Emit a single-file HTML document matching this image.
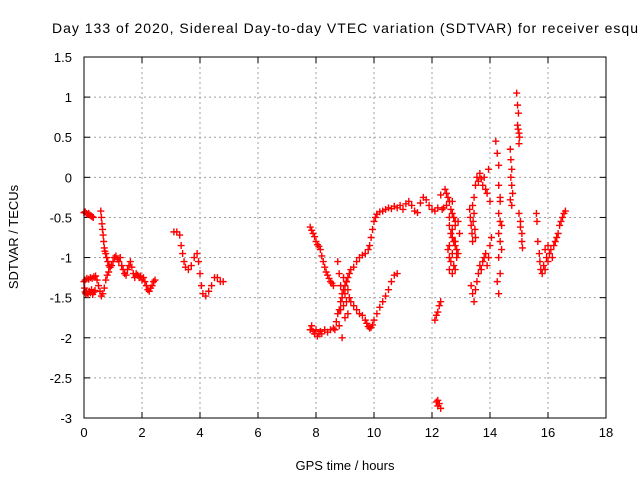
<!DOCTYPE html>
<html><head><meta charset="utf-8"><style>
body{margin:0;background:#fff;}
svg{display:block;font-family:"Liberation Sans",sans-serif;}
</style></head><body>
<svg id="chart" width="640" height="480">
<text x="52" y="33" font-size="14" textLength="586" lengthAdjust="spacing">Day 133 of 2020, Sidereal Day-to-day VTEC variation (SDTVAR) for receiver esqu</text>
<g id="grid"></g>
<g id="ticks"></g>
<g id="points"></g>
<rect x="84" y="57" width="522" height="361" fill="none" stroke="#000" stroke-width="1"/>
<text x="345" y="470" font-size="13" text-anchor="middle">GPS time / hours</text>
<text transform="translate(18,237) rotate(-90)" font-size="13" text-anchor="middle">SDTVAR / TECUs</text>
</svg>
<script>
const xTicks=[0,2,4,6,8,10,12,14,16,18];
const yTicks=[1.5,1,0.5,0,-0.5,-1,-1.5,-2,-2.5,-3];
const hours=[0,0.04,0.08,0.12,0.16,0.2,0.24,0.28,0.32,
0,0.02,0.04,0.06,0.08,0.1,0.14,0.18,0.22,0.26,0.3,0.34,0.38,
0.04,0.1,0.16,0.22,0.28,0.34,0.4,
0.45,0.5,0.55,0.6,0.65,0.7,0.75,0.8,0.85,0.9,
0.58,0.6,0.62,0.64,0.66,0.68,0.7,0.72,0.75,0.78,0.82,0.86,0.9,0.95,1.0,1.05,1.1,1.15,1.2,1.25,1.3,1.35,1.4,1.45,1.5,1.55,1.6,1.65,1.7,1.75,1.8,1.85,1.9,1.95,2.0,2.05,2.1,2.15,2.2,2.25,2.3,2.35,2.4,2.45,
3.1,3.2,3.3,3.35,3.4,3.45,3.5,3.6,3.7,3.8,3.9,3.95,4.0,4.05,4.1,4.2,4.3,4.4,4.5,4.6,4.7,4.8,
7.8,7.85,7.9,7.95,8.0,8.05,8.1,8.15,8.2,8.25,8.3,8.35,8.4,8.45,8.5,8.55,8.6,
7.8,7.85,7.9,7.95,8.0,8.05,8.1,8.15,8.2,8.3,8.4,8.5,8.6,
8.65,8.7,8.75,8.8,8.85,8.9,8.95,9.0,9.05,9.1,9.15,9.2,9.3,9.4,9.5,9.6,9.7,9.8,9.85,9.9,9.95,10.0,10.05,10.1,
8.75,8.8,8.85,8.9,8.95,9.0,9.05,9.1,8.8,8.9,9.0,8.85,8.95,9.05,
9.05,9.1,9.15,9.2,9.3,9.4,9.5,9.6,9.7,9.75,9.8,9.85,9.9,9.95,10.0,10.1,10.2,10.3,10.4,10.5,10.6,10.7,10.8,
10.1,10.2,10.3,10.4,10.5,10.6,10.7,10.8,10.9,11.0,11.1,11.2,11.3,11.4,11.5,11.6,11.7,11.8,11.9,12.0,12.1,12.2,12.3,
12.1,12.15,12.2,12.25,12.3,
12.15,12.2,12.25,12.3,12.2,
12.45,12.5,12.55,12.6,12.65,12.7,12.75,12.8,12.6,12.65,12.7,12.75,12.8,12.85,12.9,12.6,12.65,12.7,12.75,12.8,12.85,12.55,12.6,12.7,12.8,12.9,12.95,12.6,12.7,12.8,12.5,12.4,12.35,12.6,12.7,
13.4,13.45,13.5,13.55,13.6,13.65,13.7,13.75,13.8,13.85,13.9,13.95,14.0,
13.3,13.32,13.35,13.38,13.4,13.42,13.45,13.48,13.5,13.35,13.4,13.45,13.5,13.55,
13.6,13.65,13.7,13.75,13.8,13.85,13.9,13.95,14.0,14.05,
14.2,14.25,14.3,14.3,14.35,14.3,14.35,14.4,14.3,14.35,14.4,14.3,14.35,14.25,14.3,14.35,
14.92,14.95,14.98,14.95,14.97,15.0,15.02,15.0,
14.7,14.72,14.75,14.72,14.75,14.78,14.7,14.75,
15.0,15.05,15.05,15.1,15.1,15.12,
15.6,15.62,15.65,15.7,15.72,15.75,15.8,15.85,15.9,15.95,16.0,16.05,16.1,16.15,16.2,16.25,16.3,16.35,16.4,16.45,16.5,16.55,16.6,15.9,16.0];
const sdtvar=[-0.44,-0.43,-0.45,-0.46,-0.45,-0.47,-0.48,-0.49,-0.5,
-1.3,-1.38,-1.43,-1.45,-1.42,-1.44,-1.46,-1.42,-1.44,-1.4,-1.46,-1.43,-1.41,
-1.28,-1.26,-1.27,-1.25,-1.26,-1.24,-1.23,
-1.28,-1.35,-1.42,-1.48,-1.45,-1.38,-1.28,-1.22,-1.18,-1.12,
-0.42,-0.5,-0.58,-0.65,-0.72,-0.8,-0.88,-0.92,-0.95,-1.0,-1.05,-1.1,-1.12,-1.1,-1.05,-1.0,-0.98,-1.02,-1.05,-1.0,-1.1,-1.15,-1.2,-1.22,-1.15,-1.1,-1.05,-1.12,-1.2,-1.25,-1.2,-1.22,-1.25,-1.23,-1.28,-1.25,-1.3,-1.35,-1.4,-1.42,-1.38,-1.35,-1.3,-1.28,
-0.68,-0.68,-0.72,-0.85,-0.95,-1.05,-1.12,-1.15,-1.1,-1.0,-0.95,-1.05,-1.2,-1.35,-1.45,-1.48,-1.42,-1.35,-1.25,-1.25,-1.3,-1.3,
-0.62,-0.66,-0.7,-0.74,-0.8,-0.84,-0.86,-0.9,-0.98,-1.05,-1.12,-1.18,-1.22,-1.26,-1.3,-1.32,-1.35,
-1.9,-1.85,-1.92,-1.95,-1.9,-1.98,-1.95,-1.92,-1.95,-1.9,-1.93,-1.9,-1.88,
-1.9,-1.8,-1.7,-1.65,-1.55,-1.45,-1.4,-1.35,-1.3,-1.25,-1.2,-1.15,-1.12,-1.05,-1.0,-0.97,-0.95,-0.9,-0.85,-0.75,-0.65,-0.55,-0.5,-0.46,
-1.05,-1.2,-1.35,-1.5,-1.6,-1.45,-1.3,-1.7,-1.85,-2.0,-1.75,-1.65,-1.25,-1.55,
-1.3,-1.4,-1.5,-1.55,-1.6,-1.65,-1.7,-1.72,-1.78,-1.82,-1.86,-1.88,-1.87,-1.84,-1.78,-1.7,-1.62,-1.55,-1.48,-1.4,-1.3,-1.22,-1.2,
-0.46,-0.43,-0.42,-0.4,-0.38,-0.39,-0.36,-0.38,-0.35,-0.4,-0.33,-0.3,-0.35,-0.42,-0.44,-0.32,-0.25,-0.28,-0.35,-0.4,-0.42,-0.38,-0.22,
-1.78,-1.72,-1.68,-1.6,-1.55,
-2.8,-2.85,-2.82,-2.88,-2.78,
-0.15,-0.2,-0.25,-0.3,-0.4,-0.45,-0.5,-0.55,-0.6,-0.7,-0.75,-0.8,-0.85,-0.9,-0.95,-1.0,-1.05,-0.95,-1.1,-1.15,-1.0,-0.9,-0.85,-0.65,-0.6,-0.55,-0.7,-1.15,-1.2,-0.8,-0.35,-0.38,-0.4,-0.5,-0.3,
-0.35,-0.25,-0.1,0.0,-0.05,0.05,-0.02,-0.1,0.0,-0.15,-0.2,0.1,-0.3,
-0.4,-0.5,-0.6,-0.7,-0.8,-0.55,-0.45,-0.65,-0.75,-1.35,-1.45,-1.55,-1.4,-1.3,
-1.2,-1.1,-1.15,-1.05,-1.0,-0.95,-1.1,-1.0,-0.85,-0.75,
0.45,0.3,0.15,-0.1,-0.3,-0.45,-0.55,-0.6,-0.7,-0.8,-0.9,-1.0,-1.2,-1.3,-1.45,-0.25,
1.05,0.9,0.8,0.65,0.6,0.55,0.5,0.42,
0.35,0.22,0.1,0.0,-0.1,-0.2,-0.28,-0.35,
-0.45,-0.55,-0.62,-0.7,-0.8,-0.88,
-0.45,-0.55,-0.8,-0.95,-1.05,-1.15,-1.2,-1.1,-0.9,-1.0,-1.05,-0.95,-0.9,-1.0,-0.85,-0.8,-0.75,-0.7,-0.6,-0.55,-0.5,-0.45,-0.42,-1.15,-0.85];
const NS="http://www.w3.org/2000/svg";
const X0=84,X1=606,Y0=57,Y1=418;
function xs(h){return X0+(h-0)/(18-0)*(X1-X0);}
function ys(v){return Y0+(1.5-v)/(1.5-(-3))*(Y1-Y0);}
const grid=document.getElementById('grid'),ticks=document.getElementById('ticks'),pts=document.getElementById('points');
function mk(tag,attrs,parent){const e=document.createElementNS(NS,tag);for(const k in attrs)e.setAttribute(k,attrs[k]);parent.appendChild(e);return e;}
xTicks.forEach(t=>{const x=xs(t);
 if(t>0&&t<18){const g=mk('line',{x1:x,x2:x,y1:Y0,y2:Y1,stroke:'#a0a0a0','stroke-dasharray':'2,3'},grid);
 
 }
 mk('line',{x1:x,x2:x,y1:Y1,y2:Y1-6,stroke:'#000'},ticks);
 mk('line',{x1:x,x2:x,y1:Y0,y2:Y0+6,stroke:'#000'},ticks);
 const l=mk('text',{x:x,y:Y1+19,'font-size':13,'text-anchor':'middle'},ticks);l.textContent=t;
 
 });
yTicks.forEach(t=>{const y=ys(t);
 if(t<1.5&&t>-3){const g=mk('line',{x1:X0,x2:X1,y1:y,y2:y,stroke:'#a0a0a0','stroke-dasharray':'2,3'},grid);
 
 }
 mk('line',{x1:X0,x2:X0+6,y1:y,y2:y,stroke:'#000'},ticks);
 mk('line',{x1:X1,x2:X1-6,y1:y,y2:y,stroke:'#000'},ticks);
 const l=mk('text',{x:X0-12,y:y+5,'font-size':13,'text-anchor':'end'},ticks);l.textContent=t;
 
 });
hours.forEach((h,i)=>{const x=xs(h),y=ys(sdtvar[i]);
 const p=mk('path',{d:`M${x-3.5},${y}H${x+3.5}M${x},${y-3.5}V${y+3.5}`,stroke:'#ff0000','stroke-width':1.4,fill:'none'},pts);
 
 });
</script>
</body></html>
